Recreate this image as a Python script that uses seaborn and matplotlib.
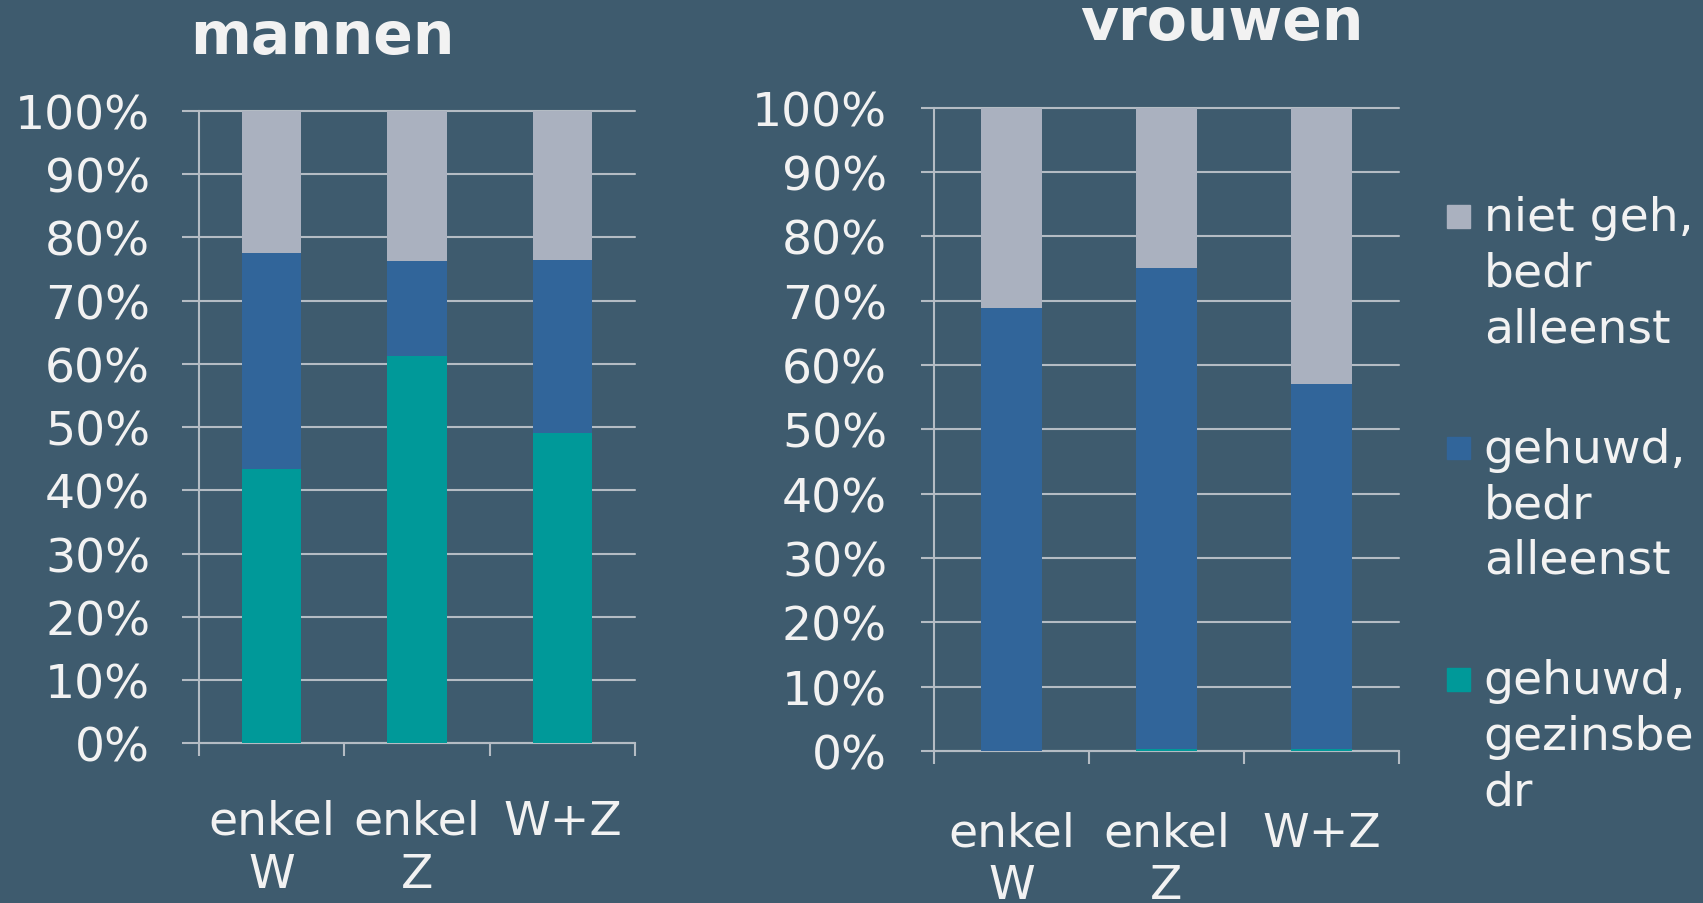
import numpy as np
import pandas as pd
import seaborn as sns
import matplotlib
matplotlib.use("Agg")
import matplotlib.pyplot as plt
from matplotlib.legend_handler import HandlerPatch
from matplotlib.patches import Rectangle, Patch

# ---------------- data ----------------
categories = ["enkel\nW", "enkel\nZ", "W+Z"]
series_names = ["niet geh,\nbedr\nalleenst", "gehuwd,\nbedr\nalleenst", "gehuwd,\ngezinsbe\ndr"]
titles = ["mannen", "vrouwen"]

mannen_gezinsbedr = [43.3, 61.2, 49.0]
mannen_bedr_alleenst = [34.2, 15.1, 27.5]
mannen_niet_geh = [22.5, 23.7, 23.5]

vrouwen_gezinsbedr = [0.0, 0.3, 0.3]
vrouwen_bedr_alleenst = [68.9, 74.7, 56.7]
vrouwen_niet_geh = [31.1, 25.0, 43.0]

y_ticks = [0, 10, 20, 30, 40, 50, 60, 70, 80, 90, 100]
y_tick_labels = ["0%", "10%", "20%", "30%", "40%", "50%", "60%", "70%", "80%", "90%", "100%"]

# ---------------- style ----------------
BG = "#3E5B6E"
C_NIET = "#AAB1BF"
C_BEDR = "#31659A"
C_GEZIN = "#009999"
GRID = "#B4BCC4"
TXT = "#F2F2F2"
FS = 34
LEG_LS = 1.3

sns.set_theme(style="white")
plt.rcParams["font.family"] = ["DejaVu Sans"]

fig = plt.figure(figsize=(17.03, 9.04), dpi=100, facecolor=BG)


def draw(ax, gez, bedr, niet, bar_w, ytick_len, ytick_pad, xpad):
    df = pd.DataFrame({"cat": categories, "gez": gez, "bedr": bedr, "niet": niet})
    df["c1"] = df["gez"]
    df["c2"] = df["gez"] + df["bedr"]
    df["c3"] = df["c2"] + df["niet"]
    for col, color in [("c3", C_NIET), ("c2", C_BEDR), ("c1", C_GEZIN)]:
        sns.barplot(data=df, x="cat", y=col, color=color, saturation=1,
                    width=bar_w, errorbar=None, linewidth=0, ax=ax, zorder=3)
    ax.set_facecolor(BG)
    ax.set_xlim(-0.5, 2.5)
    ax.set_ylim(0, 100)
    ax.set_xlabel("")
    ax.set_ylabel("")
    ax.set_yticks(y_ticks)
    ax.set_yticklabels(y_tick_labels)
    ax.yaxis.grid(True, color=GRID, lw=1.5, zorder=1)
    for gl in ax.get_ygridlines():
        gl.set_clip_on(False)
    ax.set_axisbelow(True)
    for s in ["top", "right"]:
        ax.spines[s].set_visible(False)
    for s in ["left", "bottom"]:
        ax.spines[s].set_color(GRID)
        ax.spines[s].set_linewidth(1.5)
    ax.tick_params(axis="y", which="major", direction="out", length=ytick_len,
                   width=1.5, color=GRID, labelsize=FS, labelcolor=TXT, pad=ytick_pad, left=True)
    ax.set_xticks([0, 1, 2])
    ax.set_xticklabels(categories, linespacing=1.22)
    ax.set_xticks([-0.5, 0.5, 1.5, 2.5], minor=True)
    ax.tick_params(axis="x", which="major", length=0, labelsize=FS, labelcolor=TXT, pad=xpad)
    ax.tick_params(axis="x", which="minor", direction="out", length=9.5, width=1.5,
                   color=GRID, bottom=True)


ax1 = fig.add_axes([0.1167, 0.1767, 0.2564, 0.6995])
draw(ax1, mannen_gezinsbedr, mannen_bedr_alleenst, mannen_niet_geh, 0.41, 12, 23, 40)

ax2 = fig.add_axes([0.5485, 0.1683, 0.2729, 0.7115])
draw(ax2, vrouwen_gezinsbedr, vrouwen_bedr_alleenst, vrouwen_niet_geh, 0.39, 9.4, 24.5, 43)

fig.text(0.1894, 0.940, titles[0], ha="center", va="baseline", fontsize=42,
         fontweight="bold", color=TXT)
fig.text(0.7175, 0.956, titles[1], ha="center", va="baseline", fontsize=42,
         fontweight="bold", color=TXT)


def top_square(legend, orig_handle, xdescent, ydescent, width, height, fontsize):
    s = 0.48 * fontsize
    return Rectangle((-xdescent, -ydescent + (0.27 + LEG_LS) * fontsize - s / 2), s, s)


handles = [Patch(color=C_NIET), Patch(color=C_BEDR), Patch(color=C_GEZIN)]
leg = fig.legend(handles=handles, labels=series_names, loc="upper left",
                 bbox_to_anchor=(0.8497, 0.783), frameon=False, fontsize=FS,
                 labelcolor=TXT, handlelength=0.48, handletextpad=0.3,
                 labelspacing=1.6, borderpad=0, borderaxespad=0,
                 handler_map={Patch: HandlerPatch(patch_func=top_square)})
for t in leg.get_texts():
    t.set_linespacing(LEG_LS)

fig.savefig("out.png", dpi=100, facecolor=BG)
